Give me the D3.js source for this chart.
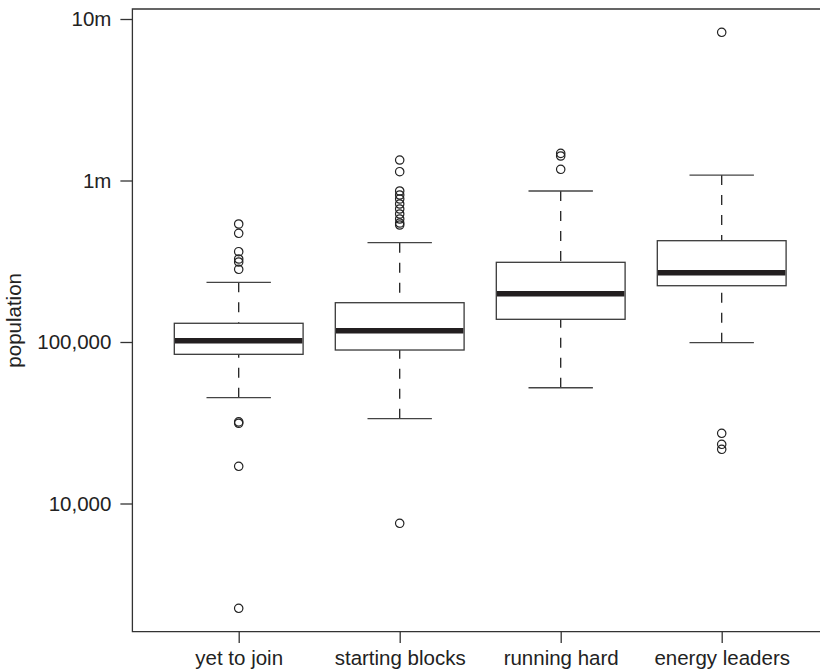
<!DOCTYPE html>
<html>
<head>
<meta charset="utf-8">
<script src="https://cdn.jsdelivr.net/npm/d3@7"></script>
<style>
  html, body { margin: 0; padding: 0; background: #fff; }
  svg { display: block; font-family: "Liberation Sans", Arial, Helvetica, sans-serif; }
</style>
</head>
<body>
<script>
// group statistics (population, log scale)
const categories = ['yet to join', 'starting blocks', 'running hard', 'energy leaders'];
const whiskerLow = [45200, 33500, 52100, 99000];
const q1 = [83900, 89200, 138200, 223100];
const median = [101900, 117500, 199100, 268600];
const q3 = [130600, 175100, 311500, 423900];
const whiskerHigh = [234300, 412000, 861000, 1081000];
const outliers = [
  [537900, 471000, 362300, 326600, 312900, 282000, 32000, 31400, 17000, 2244],
  [1339000, 1134000, 861000, 813400, 768300, 715300, 666000, 620300, 577500, 545600, 530300, 7540],
  [1473000, 1418000, 1173000],
  [8273000, 27200, 23260, 21660]
];
const yTicks = [1e4, 1e5, 1e6, 1e7];
const yTickLabels = ['10,000', '100,000', '1m', '10m'];

const width = 820;
const height = 671;
const frame = { left: 132.4, top: 9, bottom: 631.7, right: 820 };
const ink = '#333';
const fontSize = 20.5;

const svg = d3.select('body').append('svg')
  .attr('width', width)
  .attr('height', height)
;

const x = d3.scalePoint()
  .domain(categories)
  .range([158.2, 802.2])
  .padding(0.5)
;
const y = d3.scaleLog()
  .domain([1e4, 1e7])
  .range([503.5, 19])
;

const step = x.step();
const boxW = step * 0.8;
const capW = step * 0.4;

// frame: left, top and bottom sides only
svg.append('path')
  .attr('d', `M${frame.right},${frame.top}H${frame.left}V${frame.bottom}H${frame.right}`)
  .attr('fill', 'none')
  .attr('stroke', ink)
  .attr('stroke-width', 1.3)
;

// y axis
const yAxis = d3.axisLeft(y)
  .tickValues(yTicks)
  .tickFormat((d, i) => yTickLabels[i])
  .tickSize(12)
  .tickPadding(9)
;
svg.append('g')
  .attr('transform', `translate(${frame.left},0)`)
  .call(yAxis)
  .call(g => g.select('.domain').remove())
  .call(g => g.selectAll('line').attr('stroke', ink).attr('stroke-width', 1.3))
  .call(g => g.selectAll('text')
    .attr('fill', '#222')
    .style('font-size', fontSize + 'px')
    .style('font-family', '"Liberation Sans", Arial, sans-serif'))
;

// x axis
const xAxis = d3.axisBottom(x)
  .tickSize(11.3)
  .tickPadding(7)
;
svg.append('g')
  .attr('transform', `translate(0,${frame.bottom})`)
  .call(xAxis)
  .call(g => g.select('.domain').remove())
  .call(g => g.selectAll('line').attr('stroke', ink).attr('stroke-width', 1.3))
  .call(g => g.selectAll('text')
    .attr('fill', '#222')
    .style('font-size', fontSize + 'px')
    .style('font-family', '"Liberation Sans", Arial, sans-serif'))
;

svg.append('text')
  .attr('transform', `translate(21,${(frame.top + frame.bottom) / 2}) rotate(-90)`)
  .attr('text-anchor', 'middle')
  .attr('fill', '#222')
  .style('font-size', fontSize + 'px')
  .text('population')
;

const groups = svg.append('g')
  .selectAll('g')
  .data(categories)
  .join('g')
  .attr('transform', d => `translate(${x(d)},0)`)
;

// dashed whiskers, drawn from the cap toward the box
groups.append('line')
  .attr('y1', (d, i) => y(whiskerLow[i]))
  .attr('y2', (d, i) => y(q1[i]))
  .attr('stroke', '#222')
  .attr('stroke-width', 1.3)
  .attr('stroke-dasharray', '10,10')
;
groups.append('line')
  .attr('y1', (d, i) => y(whiskerHigh[i]))
  .attr('y2', (d, i) => y(q3[i]))
  .attr('stroke', '#222')
  .attr('stroke-width', 1.3)
  .attr('stroke-dasharray', '10,10')
;

// caps
groups.selectAll('.cap')
  .data((d, i) => [whiskerLow[i], whiskerHigh[i]])
  .join('line')
  .attr('class', 'cap')
  .attr('x1', -capW / 2)
  .attr('x2', capW / 2)
  .attr('y1', d => y(d))
  .attr('y2', d => y(d))
  .attr('stroke', '#444')
  .attr('stroke-width', 1.3)
;

// boxes
groups.append('rect')
  .attr('x', -boxW / 2)
  .attr('width', boxW)
  .attr('y', (d, i) => y(q3[i]))
  .attr('height', (d, i) => y(q1[i]) - y(q3[i]))
  .attr('fill', '#fff')
  .attr('stroke', '#3a3a3a')
  .attr('stroke-width', 1.3)
;

// medians
groups.append('line')
  .attr('x1', -boxW / 2 + 0.7)
  .attr('x2', boxW / 2 - 0.7)
  .attr('y1', (d, i) => y(median[i]))
  .attr('y2', (d, i) => y(median[i]))
  .attr('stroke', '#231f20')
  .attr('stroke-width', 5.5)
;

// outliers
groups.selectAll('circle')
  .data((d, i) => outliers[i])
  .join('circle')
  .attr('cy', d => y(d))
  .attr('r', 4.2)
  .attr('fill', 'none')
  .attr('stroke', '#222')
  .attr('stroke-width', 1.2)
;
</script>
</body>
</html>
